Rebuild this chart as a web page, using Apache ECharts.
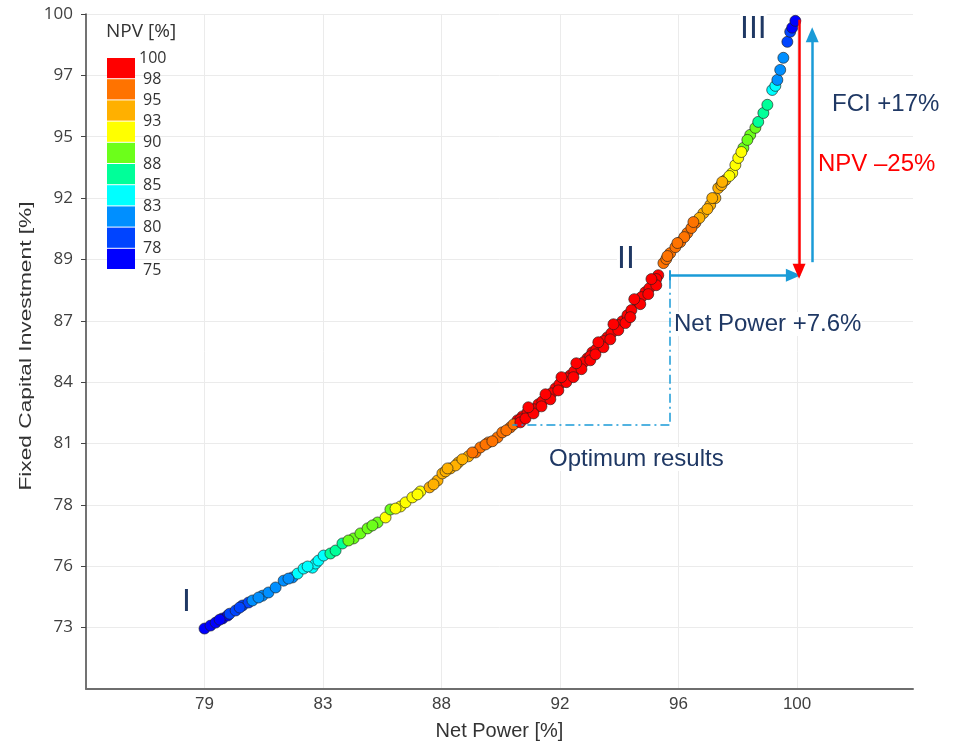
<!DOCTYPE html>
<html>
<head>
<meta charset="utf-8">
<script src="https://cdn.jsdelivr.net/npm/echarts@6/dist/echarts.min.js"></script>
<style>
html,body{margin:0;padding:0;background:#fff;}
#chart{width:961px;height:741px;}
</style>
</head>
<body>
<div id="chart"></div>
<script>
// ---- data ----
const NET_POWER = [
79.25,79.46,79.64,79.88,80.06,80.13,80.34,80.58,80.79,80.93,
81.28,81.49,81.74,82.02,82.33,82.51,82.72,83.03,83.14,83.24,
83.42,83.66,83.84,84.08,84.47,84.71,84.96,85.31,85.59,85.76,
86.11,86.29,86.53,86.81,87.13,87.41,87.58,87.86,88.14,88.49,
88.74,88.91,89.19,89.51,89.68,89.96,90.21,90.38,90.66,90.94,
91.26,91.54,91.82,92.06,92.34,92.66,92.83,93.11,93.36,93.64,
93.88,94.06,94.41,94.69,94.97,95.14,95.32,95.56,95.74,95.91,
96.16,96.44,96.72,96.96,97.14,97.24,97.49,97.73,97.84,97.94,
98.12,98.36,98.54,98.64,98.82,98.96,99.13,99.24,99.31,99.41,
99.52,99.66,99.76,99.83,99.94,
90.31,90.56,90.80,91.08,91.40,91.68,91.92,92.20,92.52,92.76,
92.97,93.22,93.50,93.74,94.20,94.55,94.83,95.07,
89.09,89.82,90.07,95.42,96.05,96.30,96.58,96.86,97.35,97.63,
98.26,88.04,87.69,87.27,86.71,85.94,85.13,84.29,82.86,82.19,
81.14,80.48,79.78,
90.31,90.49,90.77,91.05,91.36,91.64,91.92,92.17,92.45,92.76,
92.94,93.22,93.46,93.74,93.99,94.16,94.51,94.79,95.07,
90.59,91.19,91.75,92.27,93.04,93.57,94.30,94.90,
95.46,95.81,96.37,97.03,97.38,98.05,
88.63,89.33,88.28,87.76
];
const FCI = [
73.06,73.19,73.32,73.50,73.63,73.71,73.85,74.07,74.20,74.29,
74.50,74.64,74.86,75.16,75.30,75.47,75.69,75.73,75.91,76.04,
76.26,76.35,76.48,76.79,77.01,77.23,77.45,77.71,77.93,78.28,
78.41,78.59,78.81,79.07,79.25,79.55,79.86,80.08,80.34,80.61,
80.78,81.00,81.22,81.44,81.66,81.88,82.19,82.36,82.58,82.89,
83.20,83.59,83.94,84.16,84.51,84.91,85.17,85.48,85.83,86.23,
86.53,86.80,87.37,87.81,88.20,88.55,89.08,89.52,89.78,90.00,
90.40,90.84,91.27,91.63,91.93,92.37,92.72,93.03,93.38,93.69,
94.13,94.70,95.01,95.27,95.66,96.02,96.67,96.85,97.11,97.55,
98.08,98.78,99.22,99.40,99.70,
82.23,82.54,82.67,83.02,83.37,83.77,84.03,84.34,84.73,85.00,
85.30,85.66,86.01,86.36,87.02,87.59,87.98,88.38,
81.13,81.75,82.01,89.26,90.22,90.62,91.06,91.45,92.50,92.90,
94.48,80.21,79.95,79.38,78.94,78.32,77.58,76.92,75.78,75.25,
74.42,73.98,73.45,
82.10,82.27,82.49,82.80,83.11,83.50,83.86,84.08,84.43,84.82,
85.08,85.39,85.74,86.14,86.45,86.71,87.28,87.72,88.11,
82.76,83.33,84.08,84.69,85.61,86.40,87.50,88.38,
89.39,89.96,90.88,91.93,92.64,93.95,
80.78,81.27,80.48,80.08
];
const NPV = [
75.5,76.0,76.5,77.0,77.5,78.2,78.6,79.1,79.6,80.3,
80.8,81.3,81.8,82.3,82.8,83.2,83.6,84.0,84.3,84.6,
84.9,85.5,86.2,87.0,88.3,88.7,89.1,89.5,90.2,89.8,
90.5,91.0,91.5,92.2,93.2,93.6,94.0,94.3,94.6,94.9,
95.3,95.8,96.3,96.8,97.2,97.7,98.2,98.5,98.8,99.1,
99.3,99.5,99.7,99.8,99.9,100.0,99.95,99.9,99.8,99.6,
99.4,99.2,99.0,98.8,98.5,98.2,97.6,97.2,96.8,96.4,
96.0,95.5,94.8,94.4,94.0,93.7,93.3,92.5,91.8,91.0,
89.5,88.8,88.2,87.3,86.5,85.8,84.2,84.6,82.8,82.0,
81.0,79.2,78.4,77.6,76.0,
98.4,98.7,99.0,99.2,99.4,99.6,99.75,99.85,99.95,99.97,
99.9,99.85,99.7,99.5,99.1,98.9,98.6,98.3,
96.5,97.5,97.9,97.4,96.2,95.8,94.9,94.6,93.5,92.8,
89.2,94.5,94.1,93.4,91.8,90.4,89.3,88.1,83.8,82.5,
80.6,78.8,76.8,
98.3,98.6,98.9,99.2,99.4,99.6,99.8,99.9,99.95,99.98,
99.9,99.85,99.7,99.5,99.3,99.1,98.9,98.6,98.3,
98.7,99.3,99.8,99.95,99.9,99.6,99.0,98.5,
97.3,96.6,95.6,94.2,93.4,91.5,
95.1,96.6,94.7,94.2
];
// colour legend (NPV %) : boundaries and colours
const NPV_BOUNDS = [100, 98, 95, 93, 90, 88, 85, 83, 80, 78, 75];
const NPV_COLORS = ['#ff0000','#ff7300','#ffb000','#ffff00','#6cff1a','#00ff99','#00ffff','#008fff','#0044ff','#0000ff'];
// axis tick labels
const X_TICK_LABELS = ['79','83','88','92','96','100'];
const Y_TICK_LABELS = ['73','76','78','81','84','87','89','92','95','97','100'];

const X_MIN = 75.1, X_MAX = 104.06, X_STEP = 4.15;
const Y_MIN = 70.41, Y_MAX = 100, Y_STEP = 2.69;

const LEG_LEFT = 107, LEG_TOP = 58, LEG_H = 20.2, LEG_GAP = 1;

const points = NET_POWER.map((x, i) => [x, FCI[i], NPV[i]]);
const pieces = NPV_COLORS.map((c, i) => ({
  min: NPV_BOUNDS[i + 1], max: NPV_BOUNDS[i], color: c, label: String(NPV_BOUNDS[i])
}));

const NAVY = '#1f3864';
const BLUE = '#1a9bd7';
const RED = '#ff0000';
const ANN_FONT = '"Liberation Sans", Arial, sans-serif';
const LEG_FONT = '16px "Open Sans", "Noto Sans", sans-serif';

const legendLabels = NPV_BOUNDS.map((b, i) => ({
  type: 'text', z: 100,
  x: i === 0 ? 139 : 143,
  y: LEG_TOP + i * (LEG_H + LEG_GAP),
  style: { text: String(b), font: LEG_FONT, fill: '#333', textVerticalAlign: 'middle', verticalAlign: 'middle' }
}));

function ann(text, left, top, size, color) {
  return { type: 'text', z: 100, left: left, top: top,
    style: { text: text, font: size + 'px ' + ANN_FONT, fill: color, backgroundColor: '#fff' } };
}

const chart = echarts.init(document.getElementById('chart'));
chart.setOption({
  animation: false,
  backgroundColor: '#fff',
  grid: { left: 86, right: 48, top: 14, bottom: 52, containLabel: false, outerBoundsMode: 'none' },
  xAxis: {
    type: 'value', min: X_MIN, max: X_MAX, interval: X_STEP,
    name: 'Net Power [%]', nameLocation: 'middle', nameGap: 32,
    nameTextStyle: { fontFamily: '"Liberation Sans", sans-serif', fontSize: 20, color: '#333' },
    axisLine: { show: true, onZero: false, lineStyle: { color: '#6e6e6e', width: 2 } },
    axisTick: { show: false },
    axisLabel: {
      showMinLabel: false, showMaxLabel: false, margin: 7,
      fontFamily: '"Liberation Sans", sans-serif', fontSize: 17, color: '#404040',
      formatter: v => { const i = Math.round((v - X_MIN) / X_STEP) - 1; return X_TICK_LABELS[i] || ''; }
    },
    splitLine: { show: true, showMaxLine: false, showMinLine: false, lineStyle: { color: '#ebebeb', width: 1 } }
  },
  yAxis: {
    type: 'value', min: Y_MIN, max: Y_MAX, interval: Y_STEP,
    axisLine: { show: true, onZero: false, lineStyle: { color: '#444', width: 1.5 } },
    axisTick: { show: true, length: 5, lineStyle: { color: '#444' } },
    axisLabel: {
      showMinLabel: false, margin: 13,
      fontFamily: 'Open Sans, Noto Sans, sans-serif', fontSize: 17, color: '#404040',
      formatter: v => { const i = Math.round((v - Y_MIN) / Y_STEP) - 1; return Y_TICK_LABELS[i] || ''; }
    },
    splitLine: { show: true, showMinLine: false, lineStyle: { color: '#ebebeb', width: 1 } }
  },
  visualMap: {
    type: 'piecewise', dimension: 2, seriesIndex: 0,
    orient: 'vertical', left: LEG_LEFT, top: LEG_TOP, padding: 0,
    itemWidth: 28, itemHeight: LEG_H, itemGap: LEG_GAP, itemSymbol: 'rect',
    selectedMode: false, showLabel: false,
    pieces: pieces
  },
  graphic: [
    { type: 'text', z: 100, left: 106, top: 22, style: { text: 'NPV [%]', font: '19px "Open Sans", "Noto Sans", sans-serif', fill: '#333' } },
    { type: 'text', z: 100, x: 27, y: 346, rotation: Math.PI / 2, scaleX: 1.42,
      style: { text: 'Fixed Capital Investment [%]', font: '16px "Liberation Sans", sans-serif', fill: '#333',
               align: 'center', verticalAlign: 'middle', textAlign: 'center', textVerticalAlign: 'middle' } }
  ].concat(legendLabels).concat([
    ann('I', 182, 586, 32, NAVY),
    ann('II', 617, 243, 32, NAVY),
    ann('III', 740, 13, 32, NAVY),
    ann('FCI +17%', 832, 92, 24, NAVY),
    ann('NPV \u201325%', 818, 152, 24, RED),
    ann('Net Power +7.6%', 674, 312, 24, NAVY),
    ann('Optimum results', 549, 447, 24, NAVY)
  ]),
  series: [
    {
      type: 'scatter', data: points, symbolSize: 11,
      itemStyle: { borderColor: 'rgba(30,30,30,0.8)', borderWidth: 0.8, opacity: 1 },
      z: 3
    },
    {
      type: 'line', data: [], silent: true, z: 4,
      markLine: {
        silent: true, animation: false, label: { show: false },
        emphasis: { disabled: true },
        data: [
          [ { coord: [95.53, 82.01], symbol: 'none', lineStyle: { color: BLUE, width: 1.5, type: [9, 4, 2, 4] } },
            { coord: [90.03, 82.01], symbol: 'none' } ],
          [ { coord: [95.53, 88.35], symbol: 'none', lineStyle: { color: BLUE, width: 1.5, type: [9, 4, 2, 4] } },
            { coord: [95.53, 82.01], symbol: 'none' } ],
          [ { coord: [95.53, 88.33], symbol: 'none', lineStyle: { color: BLUE, width: 2, type: 'solid' } },
            { coord: [95.53, 88.77], symbol: 'none' } ],
          [ { coord: [95.53, 88.55], symbol: 'none', lineStyle: { color: BLUE, width: 2.5, type: 'solid' } },
            { coord: [99.87, 88.55], symbol: 'triangle', symbolSize: [13, 15] } ],
          [ { coord: [100.07, 99.75], symbol: 'none', lineStyle: { color: RED, width: 2.5, type: 'solid' } },
            { coord: [100.07, 88.72], symbol: 'triangle', symbolSize: [13, 15] } ],
          [ { coord: [100.53, 89.12], symbol: 'none', lineStyle: { color: BLUE, width: 2.5, type: 'solid' } },
            { coord: [100.53, 99.09], symbol: 'triangle', symbolSize: [13, 15] } ]
        ]
      }
    }
  ]
});
</script>
</body>
</html>
